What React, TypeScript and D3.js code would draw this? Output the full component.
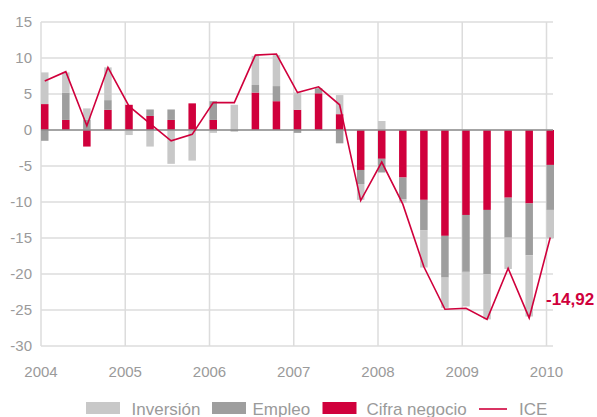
import { useEffect, useRef } from 'react';
import * as d3 from 'd3';

const width = 597;
const height = 417;

// quarterly values, 2004 Q1 .. 2010 Q1
const cifra = [3.6, 1.4, -2.3, 2.8, 3.5, 1.95, 1.4, 3.7, 1.4, 0, 5.2, 4.0, 2.8, 5.1, 2.2, -5.55, -4.0, -6.6, -9.7, -14.7, -11.8, -11.1, -9.4, -10.2, -4.85];
const empleo = [-1.5, 3.8, 1.4, 1.35, 0, 0.9, 1.45, 0, 2.6, -0.2, 1.05, 2.1, -0.4, 0.7, -1.85, -1.95, -1.9, -3.0, -4.2, -5.8, -7.9, -8.9, -5.55, -7.2, -6.25];
const inversion = [4.4, 2.8, 1.6, 4.55, -0.7, -2.3, -4.7, -4.25, -0.4, 3.5, 4.05, 4.3, 2.4, 0, 2.65, -2.2, 1.25, -0.5, -5.2, -4.2, -4.8, -6.3, -4.35, -8.5, -3.95];
const ice = [6.8, 8.1, 0.6, 8.7, 3.3, 0.9, -1.5, -0.6, 3.8, 3.8, 10.4, 10.55, 5.2, 6.0, 3.5, -9.8, -4.45, -10.3, -19.0, -24.9, -24.75, -26.3, -19.2, -26.1, -14.92];

const years = [2004, 2005, 2006, 2007, 2008, 2009, 2010];
const yTicks = [15, 10, 5, 0, -5, -10, -15, -20, -25, -30];
const lastLabel = '-14,92';

const colors: Record<string, string> = {
    cifra: '#d0003c',
    empleo: '#9e9e9e',
    inversion: '#c8c8c8',
};

const legendItems = [
    { key: 'inversion', label: 'Inversión', x: 86, tx: 131.5 },
    { key: 'empleo', label: 'Empleo', x: 212, tx: 252.5 },
    { key: 'cifra', label: 'Cifra negocio', x: 322.5, tx: 366.5 },
    { key: 'ice', label: 'ICE', x: 479, tx: 519 },
];

const font = '"Liberation Sans", Arial, sans-serif';

export default function App() {
    const ref = useRef<SVGSVGElement>(null);

    useEffect(() => {
        const svg = d3.select(ref.current);
        svg.selectAll('*').remove();

        const x = d3.scaleLinear().domain([2004, 2010]).range([41, 546.5]);
        const y = d3.scaleLinear().domain([-30, 15]).range([346, 22]);
        const barW = 7.5;
        const plotRight = 553;

        const rows = cifra.map((c, i) => ({
            t: 2004 + i / 4,
            cifra: c,
            empleo: empleo[i],
            inversion: inversion[i],
        }));

        // grid
        const grid = svg.append('g');
        grid.selectAll('line.h')
            .data(yTicks)
            .join('line')
            .attr('x1', 41).attr('x2', plotRight)
            .attr('y1', d => y(d)).attr('y2', d => y(d))
            .attr('stroke', '#dcdcdc').attr('stroke-width', 1.5);
        grid.selectAll('line.v')
            .data(years)
            .join('line')
            .attr('x1', d => x(d)).attr('x2', d => x(d))
            .attr('y1', y(15)).attr('y2', y(-30))
            .attr('stroke', '#dcdcdc').attr('stroke-width', 1.5);

        // tick labels
        svg.append('g').selectAll('text')
            .data(yTicks)
            .join('text')
            .attr('x', 32).attr('y', d => y(d) + 5)
            .attr('text-anchor', 'end')
            .attr('font-family', font).attr('font-size', 15)
            .attr('fill', '#9a9a9a')
            .text(d => d);
        svg.append('g').selectAll('text')
            .data(years)
            .join('text')
            .attr('x', d => x(d)).attr('y', 377)
            .attr('text-anchor', 'middle')
            .attr('font-family', font).attr('font-size', 15)
            .attr('fill', '#9a9a9a')
            .text(d => d);

        // bars
        const stack = d3.stack<any>()
            .keys(['cifra', 'empleo', 'inversion'])
            .offset(d3.stackOffsetDiverging);
        const series = stack(rows);
        svg.append('g').selectAll('g')
            .data(series)
            .join('g')
            .attr('fill', d => colors[d.key])
            .selectAll('rect')
            .data(d => d)
            .join('rect')
            .attr('x', d => x(d.data.t))
            .attr('width', barW)
            .attr('y', d => y(Math.max(d[0], d[1])))
            .attr('height', d => Math.abs(y(d[0]) - y(d[1])));

        // zero line
        svg.append('line')
            .attr('x1', 41).attr('x2', plotRight)
            .attr('y1', y(0)).attr('y2', y(0))
            .attr('stroke', '#8e8e8e').attr('stroke-width', 1.5);

        // ICE line
        const line = d3.line<number>()
            .x((_, i) => x(2004 + i / 4) + barW / 2)
            .y(d => y(d));
        svg.append('path')
            .datum(ice)
            .attr('d', line)
            .attr('fill', 'none')
            .attr('stroke', colors.cifra)
            .attr('stroke-width', 1.6)
            .attr('stroke-linejoin', 'miter');

        svg.append('text')
            .attr('x', 546).attr('y', 305)
            .attr('font-family', font).attr('font-size', 17)
            .attr('font-weight', 'bold')
            .attr('fill', colors.cifra)
            .text(lastLabel);

        // legend
        const lg = svg.append('g');
        legendItems.forEach(it => {
            if (it.key === 'ice') {
                lg.append('line')
                    .attr('x1', it.x).attr('x2', it.x + 28)
                    .attr('y1', 409).attr('y2', 409)
                    .attr('stroke', colors.cifra).attr('stroke-width', 1.6);
            } else {
                lg.append('rect')
                    .attr('x', it.x).attr('y', 402)
                    .attr('width', 34).attr('height', 12)
                    .attr('fill', colors[it.key]);
            }
            lg.append('text')
                .attr('x', it.tx).attr('y', 415)
                .attr('font-family', font).attr('font-size', 17)
                .attr('fill', '#9a9a9a')
                .text(it.label);
        });
    }, []);

    return (
        <svg
            ref={ref}
            width={width}
            height={height}
            style={{ position: 'absolute', left: 0, top: 0, background: '#fff' }}
        />
    );
}
